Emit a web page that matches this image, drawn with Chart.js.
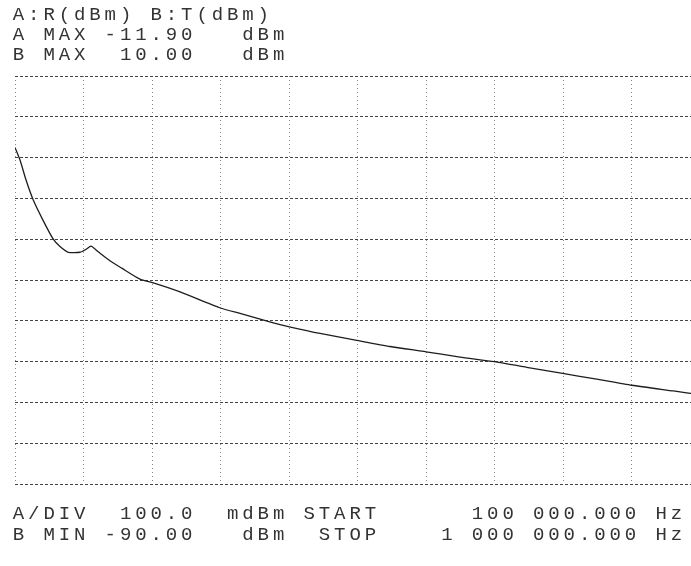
<!DOCTYPE html>
<html>
<head>
<meta charset="utf-8">
<script src="https://cdn.jsdelivr.net/npm/chart.js@4/dist/chart.umd.min.js"></script>
<style>
  html, body { margin: 0; padding: 0; background: #fff; overflow: hidden; }
  #wrap { width: 691px; height: 566px; overflow: hidden; }
</style>
</head>
<body>
<div id="wrap"><canvas id="myChart" width="710" height="566"></canvas></div>
<script>
// trace A, frequency in MHz and level in dBm
var freqMHz = [100.0, 106.6, 114.5, 124.0, 137.2, 150.3, 159.1, 170.0, 185.4, 193.3,
    199.9, 209.4, 224.8, 240.2, 264.2, 281.7, 316.8, 369.3, 395.6, 439.4,
    459.1, 500.7, 549.0, 592.7, 640.0, 684.7, 729.8, 772.3, 819.6, 864.3,
    910.3, 965.0, 1000.0];
var levelA = [-12.075, -12.106, -12.155, -12.204, -12.255, -12.300, -12.318, -12.332, -12.332, -12.325,
    -12.317, -12.331, -12.353, -12.371, -12.398, -12.407, -12.429, -12.468, -12.482, -12.505,
    -12.514, -12.531, -12.548, -12.563, -12.576, -12.589, -12.600, -12.614, -12.629, -12.643,
    -12.658, -12.672, -12.681];

var startMHz = 100, stopMHz = 1000;
var aMax = -11.90, aDiv = 0.1;

var headerLines = [
    "A:R(dBm) B:T(dBm)",
    "A MAX -11.90   dBm",
    "B MAX  10.00   dBm"
];
var footerLines = [
    "A/DIV  100.0  mdBm START      100 000.000 Hz",
    "B MIN -90.00   dBm  STOP    1 000 000.000 Hz"
];

// instrument style fixed pitch text
var textPlugin = {
    id: 'screenText',
    afterDraw: function (chart) {
        var c = chart.ctx;
        c.save();
        c.font = '19px "Liberation Mono", "DejaVu Sans Mono", monospace';
        c.fillStyle = '#333';
        c.textAlign = 'center';
        c.textBaseline = 'alphabetic';
        function row(str, y) {
            for (var i = 0; i < str.length; i++) {
                if (str[i] != ' ') c.fillText(str[i], 18.5 + i * 15.3, y);
            }
        }
        row(headerLines[0], 20);
        row(headerLines[1], 40);
        row(headerLines[2], 60);
        row(footerLines[0], 519);
        row(footerLines[1], 540);
        c.restore();
    }
};

var points = [];
for (var i = 0; i < freqMHz.length; i++) {
    points.push({x: freqMHz[i], y: levelA[i]});
}

var ctx = document.getElementById('myChart');
var myChart = new Chart(ctx, {
    type: 'line',
    data: {
        datasets: [{
            data: points,
            borderColor: '#1e1e1e',
            borderWidth: 1.3,
            pointRadius: 0,
            tension: 0.2,
            fill: false
        }]
    },
    options: {
        responsive: false,
        animation: false,
        devicePixelRatio: 1,
        layout: {padding: {left: 15, top: 76, right: 10, bottom: 82}},
        plugins: {legend: {display: false}, tooltip: {enabled: false}},
        scales: {
            x: {
                type: 'linear',
                min: startMHz,
                max: stopMHz,
                ticks: {display: false, count: 11},
                border: {display: false, dash: [1, 3]},
                grid: {color: '#888', lineWidth: 1, drawTicks: false}
            },
            y: {
                type: 'linear',
                min: aMax - 10 * aDiv,
                max: aMax,
                ticks: {display: false, count: 11},
                border: {display: false, dash: [3, 2]},
                grid: {color: '#444', lineWidth: 1, drawTicks: false}
            }
        }
    },
    plugins: [textPlugin]
});
</script>
</body>
</html>
